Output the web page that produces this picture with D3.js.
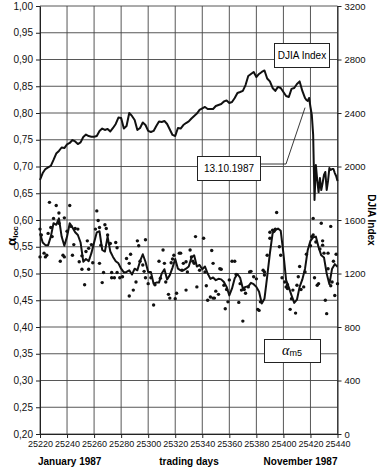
<!DOCTYPE html>
<html><head><meta charset="utf-8">
<script src="https://cdn.jsdelivr.net/npm/d3@7/dist/d3.min.js"></script>
<style>body{margin:0;background:#fff}svg{display:block}</style>
</head><body><svg id="c" width="382" height="469"></svg>
<script>
// ---- data ----
const dayTicks = [25220, 25240, 25260, 25280, 25300, 25320, 25340, 25360, 25380, 25400, 25420, 25440];
const alphaTicks = [0.20, 0.25, 0.30, 0.35, 0.40, 0.45, 0.50, 0.55, 0.60, 0.65, 0.70, 0.75, 0.80, 0.85, 0.90, 0.95, 1.00];
const djiaTicks = [0, 400, 800, 1200, 1600, 2000, 2400, 2800, 3200];
const bottomLabels = ["January 1987", "trading days", "November 1987"];

// DJIA index [trading day, close]
const djia = [[25220,1899],[25222,1951],[25224,1981],[25226,1993],[25228,2004],[25230,2049],[25232,2097],[25234,2116],[25236,2142],[25238,2138],[25240,2165],[25242,2176],[25244,2198],[25246,2187],[25248,2168],[25250,2180],[25252,2221],[25254,2239],[25256,2228],[25258,2223],[25260,2223],[25262,2228],[25264,2266],[25266,2284],[25268,2273],[25270,2281],[25272,2262],[25274,2288],[25276,2318],[25278,2366],[25280,2363],[25282,2284],[25284,2303],[25286,2400],[25288,2378],[25290,2348],[25292,2273],[25294,2288],[25296,2329],[25298,2310],[25300,2266],[25302,2258],[25304,2266],[25306,2303],[25308,2337],[25310,2333],[25312,2340],[25314,2318],[25316,2277],[25318,2236],[25320,2228],[25322,2288],[25324,2284],[25326,2310],[25328,2325],[25330,2337],[25332,2359],[25334,2378],[25336,2396],[25338,2423],[25340,2434],[25342,2445],[25344,2430],[25346,2430],[25348,2430],[25350,2452],[25352,2460],[25354,2467],[25356,2486],[25358,2494],[25360,2475],[25362,2482],[25364,2512],[25366,2550],[25368,2557],[25370,2565],[25372,2609],[25374,2677],[25376,2692],[25378,2707],[25380,2669],[25382,2692],[25384,2707],[25386,2718],[25388,2658],[25390,2636],[25392,2587],[25394,2565],[25396,2595],[25398,2587],[25400,2557],[25402,2527],[25404,2520],[25406,2580],[25408,2587],[25410,2617],[25412,2636],[25414,2565],[25416,2512],[25417,2497],[25418,2490],[25419,2512],[25420,2445],[25421,2385],[25422,2236],[25423,1750],[25424,2011],[25425,1899],[25426,1809],[25427,1914],[25428,1824],[25429,1877],[25430,1937],[25431,1959],[25432,1824],[25433,1892],[25434,1989],[25435,1974],[25436,1981],[25437,1981],[25438,1951],[25439,1929],[25440,1892]];

// alpha_m5 line [trading day, value]
const alphaM5 = [[25220,0.575],[25222,0.558],[25224,0.553],[25226,0.553],[25228,0.569],[25230,0.594],[25232,0.591],[25234,0.603],[25236,0.569],[25238,0.552],[25240,0.569],[25242,0.594],[25244,0.586],[25246,0.577],[25248,0.572],[25250,0.558],[25252,0.522],[25254,0.527],[25256,0.523],[25258,0.538],[25260,0.558],[25262,0.577],[25264,0.579],[25266,0.544],[25268,0.541],[25270,0.569],[25272,0.541],[25274,0.531],[25276,0.523],[25278,0.519],[25280,0.509],[25282,0.502],[25284,0.503],[25286,0.506],[25288,0.498],[25290,0.509],[25292,0.506],[25294,0.523],[25296,0.536],[25298,0.522],[25300,0.503],[25302,0.503],[25304,0.481],[25306,0.483],[25308,0.483],[25310,0.500],[25312,0.508],[25314,0.489],[25316,0.497],[25318,0.511],[25320,0.527],[25322,0.509],[25324,0.506],[25326,0.506],[25328,0.509],[25330,0.513],[25332,0.530],[25334,0.534],[25336,0.513],[25338,0.516],[25340,0.508],[25342,0.513],[25344,0.500],[25346,0.490],[25348,0.4925],[25350,0.4875],[25352,0.490],[25354,0.489],[25356,0.484],[25358,0.475],[25360,0.459],[25362,0.472],[25364,0.491],[25366,0.499],[25368,0.492],[25370,0.472],[25372,0.475],[25374,0.476],[25376,0.4825],[25378,0.480],[25380,0.475],[25382,0.466],[25384,0.444],[25386,0.453],[25388,0.494],[25390,0.5375],[25392,0.575],[25394,0.581],[25396,0.584],[25398,0.580],[25400,0.5375],[25402,0.4875],[25404,0.474],[25406,0.459],[25408,0.445],[25410,0.451],[25412,0.475],[25414,0.489],[25416,0.509],[25418,0.544],[25420,0.561],[25422,0.5675],[25424,0.569],[25426,0.549],[25428,0.534],[25430,0.530],[25432,0.500],[25434,0.480],[25436,0.509],[25438,0.5175],[25440,0.5125]];

// alpha_loc daily points [trading day, value]
const alphaLoc = [[25220,0.531],[25220,0.583],[25221,0.572],[25223,0.538],[25224,0.531],[25225,0.534],[25226,0.575],[25227,0.633],[25228,0.586],[25229,0.569],[25230,0.603],[25232,0.627],[25234,0.613],[25234,0.594],[25235,0.523],[25237,0.534],[25238,0.531],[25238,0.604],[25240,0.579],[25242,0.627],[25243,0.588],[25244,0.534],[25245,0.554],[25246,0.584],[25248,0.583],[25249,0.522],[25251,0.533],[25251,0.508],[25253,0.479],[25254,0.541],[25255,0.561],[25256,0.508],[25256,0.547],[25258,0.554],[25259,0.520],[25261,0.583],[25262,0.617],[25263,0.599],[25264,0.586],[25264,0.519],[25265,0.553],[25266,0.483],[25267,0.502],[25268,0.591],[25269,0.584],[25270,0.572],[25272,0.556],[25273,0.492],[25273,0.502],[25276,0.558],[25277,0.548],[25275,0.492],[25277,0.502],[25279,0.492],[25281,0.494],[25284,0.528],[25286,0.519],[25287,0.536],[25286,0.458],[25289,0.469],[25291,0.484],[25292,0.561],[25293,0.552],[25294,0.523],[25296,0.516],[25297,0.504],[25298,0.563],[25298,0.492],[25300,0.481],[25302,0.492],[25304,0.441],[25305,0.479],[25308,0.523],[25309,0.491],[25311,0.544],[25312,0.519],[25313,0.484],[25315,0.461],[25316,0.454],[25317,0.520],[25318,0.527],[25319,0.534],[25320,0.453],[25321,0.463],[25323,0.538],[25324,0.538],[25325,0.506],[25328,0.469],[25326,0.519],[25328,0.522],[25329,0.503],[25331,0.544],[25335,0.569],[25341,0.566],[25332,0.531],[25333,0.523],[25334,0.519],[25336,0.475],[25338,0.506],[25342,0.503],[25343,0.477],[25344,0.450],[25346,0.456],[25347,0.543],[25348,0.519],[25348,0.454],[25349,0.454],[25350,0.467],[25352,0.461],[25353,0.509],[25354,0.508],[25356,0.478],[25357,0.434],[25358,0.470],[25359,0.447],[25360,0.488],[25362,0.523],[25364,0.523],[25365,0.498],[25367,0.446],[25368,0.481],[25369,0.469],[25370,0.411],[25371,0.470],[25372,0.463],[25374,0.475],[25375,0.503],[25376,0.504],[25378,0.494],[25380,0.490],[25381,0.433],[25382,0.431],[25383,0.447],[25385,0.506],[25386,0.497],[25395,0.614],[25386,0.503],[25388,0.534],[25390,0.566],[25390,0.577],[25392,0.581],[25393,0.579],[25394,0.583],[25397,0.550],[25398,0.534],[25399,0.492],[25401,0.484],[25402,0.475],[25403,0.472],[25403,0.479],[25405,0.433],[25406,0.453],[25407,0.469],[25409,0.426],[25410,0.478],[25411,0.494],[25412,0.513],[25413,0.470],[25415,0.475],[25416,0.503],[25417,0.536],[25420,0.552],[25421,0.569],[25422,0.603],[25422,0.572],[25423,0.492],[25424,0.559],[25425,0.478],[25426,0.481],[25427,0.546],[25428,0.594],[25429,0.561],[25429,0.553],[25430,0.538],[25431,0.450],[25432,0.425],[25433,0.509],[25433,0.538],[25435,0.477],[25435,0.588],[25436,0.484],[25437,0.523],[25438,0.459],[25439,0.536],[25440,0.481]];

// annotation: crash date marker
const crashNote = {label: "13.10.1987", day: 25416, value: 2440};

// ---- drawing ----
const svg = d3.select("#c");
const FONT = "'Liberation Sans', Arial, sans-serif";
const P = {left: 40, right: 337.5, top: 6, bottom: 434};
const x = d3.scaleLinear().domain([25220, 25440]).range([P.left, P.right]);
const yL = d3.scaleLinear().domain([0.2, 1.0]).range([P.bottom, P.top]);
const yR = d3.scaleLinear().domain([0, 3200]).range([P.bottom, P.top]);

const grid = svg.append("g").attr("stroke", "#444").attr("stroke-width", 0.9);
grid.selectAll("line.h").data(alphaTicks).join("line").attr("class", "h")
  .attr("x1", P.left).attr("x2", P.right).attr("y1", d => yL(d)).attr("y2", d => yL(d));
grid.selectAll("line.v").data(dayTicks).join("line").attr("class", "v")
  .attr("y1", P.top).attr("y2", P.bottom).attr("x1", d => x(d)).attr("x2", d => x(d));

function styleAxis(g, size) {
  g.select(".domain").attr("stroke", "#222").attr("stroke-width", 1);
  g.selectAll(".tick line").attr("stroke", "#222");
  g.selectAll("text").attr("font-family", FONT).attr("font-size", size).attr("fill", "#111");
}
svg.append("g").attr("transform", `translate(${P.left},0)`)
  .call(d3.axisLeft(yL).tickValues(alphaTicks).tickFormat(d => d3.format(".2f")(d).replace(".", ",")).tickSize(4).tickSizeOuter(0))
  .call(g => styleAxis(g, 10));
svg.append("g").attr("transform", `translate(${P.right},0)`)
  .call(d3.axisRight(yR).tickValues(djiaTicks).tickFormat(d3.format("d")).tickSize(4).tickSizeOuter(0))
  .call(g => styleAxis(g, 9.5));
svg.append("g").attr("transform", `translate(0,${P.bottom})`)
  .call(d3.axisBottom(x).tickValues(dayTicks).tickFormat(d3.format("d")).tickSize(4).tickSizeOuter(0))
  .call(g => styleAxis(g, 9));

// data marks
svg.append("g").selectAll("circle").data(alphaLoc).join("circle")
  .attr("cx", d => x(d[0])).attr("cy", d => yL(d[1])).attr("r", 1.7).attr("fill", "#111");
svg.append("path").datum(alphaM5)
  .attr("d", d3.line().x(d => x(d[0])).y(d => yL(d[1])))
  .attr("fill", "none").attr("stroke", "#111").attr("stroke-width", 2).attr("stroke-linejoin", "round");
svg.append("path").datum(djia)
  .attr("d", d3.line().x(d => x(d[0])).y(d => yR(d[1])))
  .attr("fill", "none").attr("stroke", "#111").attr("stroke-width", 2).attr("stroke-linejoin", "round");

// legend boxes
function box(x0, y0, w, h) {
  svg.append("rect").attr("x", x0).attr("y", y0).attr("width", w).attr("height", h)
    .attr("fill", "#fff").attr("stroke", "#222").attr("stroke-width", 1);
}
box(274.5, 43.5, 55, 24);
svg.append("text").attr("x", 302).attr("y", 59).attr("text-anchor", "middle")
  .attr("font-family", FONT).attr("font-size", 10).text("DJIA Index");

box(264.5, 339.5, 56, 23);
const am = svg.append("text").attr("x", 292).attr("y", 355).attr("text-anchor", "middle");
am.append("tspan").attr("font-family", "'Liberation Serif', 'Times New Roman', serif").attr("font-style", "italic").attr("font-size", 14).text("α");
am.append("tspan").attr("font-family", FONT).attr("font-size", 9).attr("dy", 1).text("m5");

// crash annotation
svg.append("polyline")
  .attr("points", `261,164 286,164 ${x(crashNote.day)},${yR(crashNote.value)}`)
  .attr("fill", "none").attr("stroke", "#222").attr("stroke-width", 0.9);
box(197.5, 156.5, 63, 24);
svg.append("text").attr("x", 229).attr("y", 172).attr("text-anchor", "middle")
  .attr("font-family", FONT).attr("font-size", 10).text(crashNote.label);

// axis titles
const yt = svg.append("text").attr("transform", "translate(16,236) rotate(-90)").attr("text-anchor", "middle")
  .attr("font-family", FONT).attr("font-weight", "bold");
yt.append("tspan").attr("font-size", 13).text("α");
yt.append("tspan").attr("font-size", 8).attr("dy", 2).text("loc");
svg.append("text").attr("transform", "translate(368,220) rotate(90)").attr("text-anchor", "middle")
  .attr("font-family", FONT).attr("font-weight", "bold").attr("font-size", 10).text("DJIA Index");

svg.append("text").attr("x", 38).attr("y", 465).attr("font-family", FONT).attr("font-weight", "bold").attr("font-size", 10).text(bottomLabels[0]);
svg.append("text").attr("x", 189).attr("y", 465).attr("text-anchor", "middle").attr("font-family", FONT).attr("font-weight", "bold").attr("font-size", 10).text(bottomLabels[1]);
svg.append("text").attr("x", 337.5).attr("y", 465).attr("text-anchor", "end").attr("font-family", FONT).attr("font-weight", "bold").attr("font-size", 10).text(bottomLabels[2]);
</script></body></html>
